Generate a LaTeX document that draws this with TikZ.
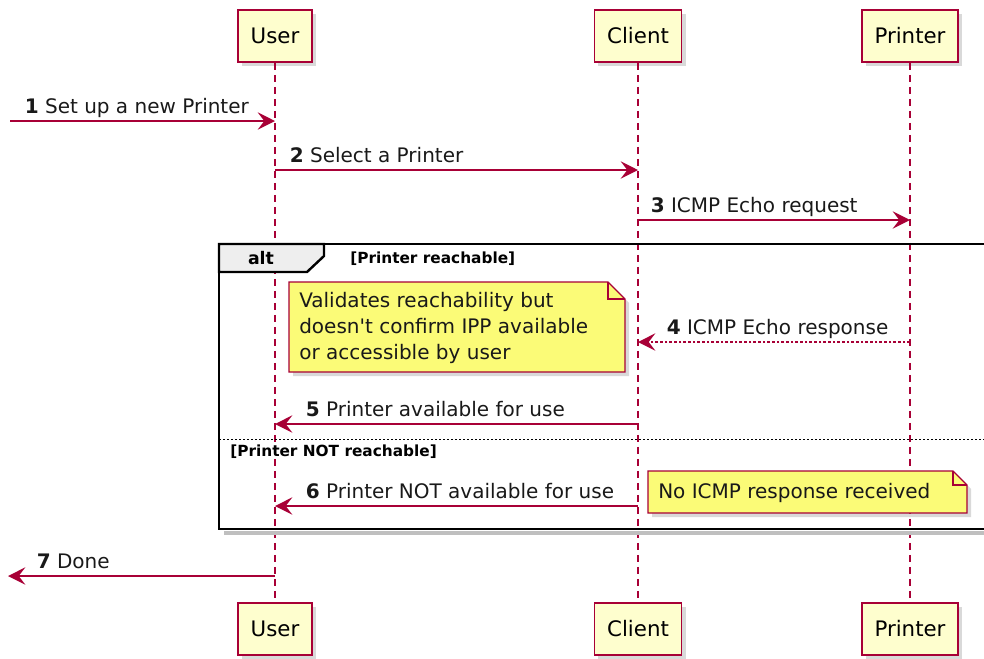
\documentclass[tikz,border=0pt]{standalone}
\usepackage{fontspec}
\setmainfont{DejaVu Sans}[Ligatures=TeXOff]
\usetikzlibrary{arrows.meta,shadows}

\definecolor{umlred}{HTML}{A80036}
\definecolor{umlbox}{HTML}{FEFECE}
\definecolor{umlnote}{HTML}{FBFB77}
\definecolor{umltab}{HTML}{EEEEEE}

\tikzset{
  part/.style={draw=umlred, fill=umlbox, line width=1.4pt, minimum height=39pt, inner xsep=9.5pt,
    font=\fontsize{16}{19}\selectfont,
    drop shadow={shadow xshift=3pt, shadow yshift=-3pt, opacity=0.3}},
  lifeline/.style={umlred, line width=0.8pt, dash pattern=on 5pt off 4pt},
  msg/.style={umlred, line width=1.2pt, -{Stealth[length=13pt, width=13pt, inset=5pt]}},
  reply/.style={msg, dash pattern=on 2pt off 1.5pt},
  msglabel/.style={font=\fontsize{15}{18}\selectfont, text=black!90, inner sep=0pt, anchor=base west},
  noteshape/.style={draw=umlred, fill=umlnote, line width=1pt,
    drop shadow={shadow xshift=3pt, shadow yshift=-3pt, opacity=0.3}},
  notetext/.style={font=\fontsize{15}{19.5}\selectfont, text=black!90, align=left, inner sep=0pt, anchor=west},
  guard/.style={font=\bfseries\fontsize{11.5}{14}\selectfont, inner sep=0pt, anchor=west},
  frameline/.style={black, line width=1.8pt},
}

\begin{document}
\begin{tikzpicture}[x=0.75pt, y=-0.75pt]
\clip (0,0) rectangle (984,658);
% participants, top and bottom
\node[part] (user) at (275,36) {User};
\node[part] (client) at (638,36) {Client};
\node[part] (printer) at (910,36) {Printer};
\node[part] (userB) at (275,629) {User};
\node[part] (clientB) at (638,629) {Client};
\node[part] (printerB) at (910,629) {Printer};
\draw[lifeline] (user) -- (userB);
\draw[lifeline] (client) -- (clientB);
\draw[lifeline] (printer) -- (printerB);

% alt frame
\draw[black!25, line width=3pt] (224,533) -- (1000,533);
\draw[frameline] (219,244) rectangle (1000,529);
\filldraw[frameline, fill=umltab] (219,244) -- (324,244) -- (324,256) -- (307,272) -- (219,272) -- cycle;
\node[font=\bfseries\fontsize{13}{15}\selectfont, inner sep=0pt] (alt) at (261,258) {alt};
\node[guard] (g1) at (350,259) {[Printer reachable]};
\draw[black, line width=0.7pt, dash pattern=on 1.5pt off 1.5pt] (219,439) -- (1000,439);
\node[guard] (g2) at (230,452) {[Printer NOT reachable]};

% notes
\filldraw[noteshape] (289,282) -- (608,282) -- (625,299) -- (625,372) -- (289,372) -- cycle;
\draw[umlred, line width=1pt] (608,282) |- (625,299);
\node[notetext] (note1) at (299,328) {Validates reachability but\\doesn't confirm IPP available\\or accessible by user};
\filldraw[noteshape] (648,471) -- (953,471) -- (967,485) -- (967,513) -- (648,513) -- cycle;
\draw[umlred, line width=1pt] (953,471) |- (967,485);
\node[notetext] (note2) at (658,493) {No ICMP response received};

% messages
\coordinate (in1) at (10,121);
\coordinate (out7) at (8,576);
\draw[msg] (in1) -- (in1 -| user)
  node[msglabel, pos=0, xshift=10.5pt, yshift=5.5pt] (l1) {\textbf{1} Set up a new Printer};
\draw[msg] (user |- 0,170) -- (client |- 0,170)
  node[msglabel, pos=0, xshift=10.5pt, yshift=5.5pt] (l2) {\textbf{2} Select a Printer};
\draw[msg] (client |- 0,220) -- (printer |- 0,220)
  node[msglabel, pos=0, xshift=9pt, yshift=5.5pt] (l3) {\textbf{3} ICMP Echo request};
\draw[reply] (printer |- 0,342) -- (client |- 0,342)
  node[msglabel, pos=1, xshift=21pt, yshift=5.5pt] (l4) {\textbf{4} ICMP Echo response};
\draw[msg] (client |- 0,424) -- (user |- 0,424)
  node[msglabel, pos=1, xshift=22.5pt, yshift=5.5pt] (l5) {\textbf{5} Printer available for use};
\draw[msg] (client |- 0,506) -- (user |- 0,506)
  node[msglabel, pos=1, xshift=22.5pt, yshift=5.5pt] (l6) {\textbf{6} Printer NOT available for use};
\draw[msg] (user |- out7) -- (out7)
  node[msglabel, pos=1, xshift=21pt, yshift=5.5pt] (l7) {\textbf{7} Done};
\end{tikzpicture}
\end{document}
